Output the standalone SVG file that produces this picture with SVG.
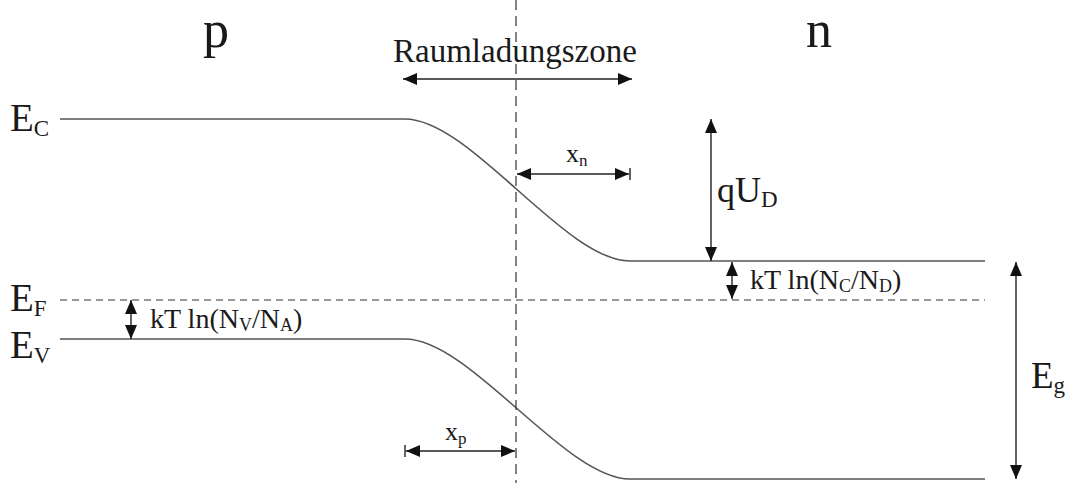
<svg xmlns="http://www.w3.org/2000/svg" width="1070" height="483" viewBox="0 0 1070 483">
<defs>
<marker id="ah" viewBox="0 0 14 12" refX="14" refY="6" markerWidth="14" markerHeight="12" markerUnits="userSpaceOnUse" orient="auto-start-reverse">
<path d="M0,0 L14,6 L0,12 Z" fill="#111"/>
</marker>
<style>
.t{font-family:"Liberation Serif","Times New Roman",serif;fill:#1a1a1a}
.band{fill:none;stroke:#555;stroke-width:1.6}
.dash{fill:none;stroke:#333;stroke-width:1.2}
.arr{fill:none;stroke:#222;stroke-width:1.4;marker-start:url(#ah);marker-end:url(#ah)}
.tick{stroke:#222;stroke-width:1.4}
</style>
</defs>
<rect width="1070" height="483" fill="#fff"/>
<g id="connectors">
<path id="ec" class="band" d="M60,119 L405,119 C470,119 565,261 630,261 L985,261"/>
<path id="ev" class="band" d="M60,339 L405,339 C470,339 565,479 630,479 L985,479"/>
<line id="ef" class="dash" x1="60" y1="300" x2="985" y2="300" stroke-dasharray="7 5"/>
<line id="junction" class="dash" x1="516" y1="0" x2="516" y2="483" stroke-dasharray="10 6"/>
<line id="rlz" class="arr" x1="403" y1="79" x2="632" y2="79"/>
<line id="xn" class="arr" x1="517" y1="174" x2="629" y2="174"/>
<line class="tick" x1="630" y1="168" x2="630" y2="180"/>
<line id="xp" class="arr" x1="406" y1="451" x2="515" y2="451"/>
<line class="tick" x1="405" y1="445" x2="405" y2="457"/>
<line id="qud" class="arr" x1="711" y1="119" x2="711" y2="261"/>
<line id="kTn" class="arr" x1="732" y1="262" x2="732" y2="299"/>
<line id="kTp" class="arr" x1="131" y1="300" x2="131" y2="339"/>
<line id="eg" class="arr" x1="1016" y1="262" x2="1016" y2="479"/>
</g>
<g id="label-p"><text class="t" x="203" y="47" font-size="52">p</text></g>
<g id="label-n"><text class="t" x="806" y="47" font-size="52">n</text></g>
<g id="label-rlz"><text class="t" x="393" y="62" font-size="33">Raumladungszone</text></g>
<g id="label-ec"><text class="t" x="10" y="131" font-size="39">E<tspan font-size="23" dy="5">C</tspan></text></g>
<g id="label-ef"><text class="t" x="10" y="311" font-size="39">E<tspan font-size="23" dy="5">F</tspan></text></g>
<g id="label-ev"><text class="t" x="10" y="358" font-size="39">E<tspan font-size="23" dy="5">V</tspan></text></g>
<g id="label-eg"><text class="t" x="1031" y="388" font-size="37">E<tspan font-size="23" dy="5">g</tspan></text></g>
<g id="label-qud"><text class="t" x="717" y="202" font-size="36">qU<tspan font-size="23" dy="5">D</tspan></text></g>
<g id="label-xn"><text class="t" x="566" y="162" font-size="26">x<tspan font-size="17" dy="4">n</tspan></text></g>
<g id="label-xp"><text class="t" x="445" y="440" font-size="26">x<tspan font-size="17" dy="4">p</tspan></text></g>
<g id="label-kTn"><text class="t" x="750" y="289" font-size="28">kT ln(N<tspan font-size="18" dy="3">C</tspan><tspan dy="-3">/N</tspan><tspan font-size="18" dy="3">D</tspan><tspan dy="-3">)</tspan></text></g>
<g id="label-kTp"><text class="t" x="150" y="328" font-size="28">kT ln(N<tspan font-size="18" dy="3">V</tspan><tspan dy="-3">/N</tspan><tspan font-size="18" dy="3">A</tspan><tspan dy="-3">)</tspan></text></g>
</svg>
